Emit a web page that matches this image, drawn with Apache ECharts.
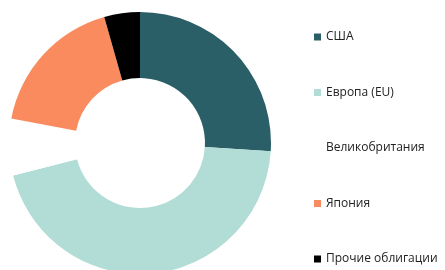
<!DOCTYPE html>
<html><head><meta charset="utf-8">
<script src="https://cdn.jsdelivr.net/npm/echarts@6/dist/echarts.min.js"></script>
<style>html,body{margin:0;padding:0;background:#fff}#c{width:445px;height:270px}</style>
</head><body><div id="c"></div>
<script>
const categories = ['США', 'Европа (EU)', 'Великобритания', 'Япония', 'Прочие облигации'];
const values = [26, 45, 7, 17.6, 4.4];
const colors = ['#2b5f67', '#b2dcd6', '#ffffff', '#f98b5e', '#000000'];

const chart = echarts.init(document.getElementById('c'), null, {renderer: 'canvas'});
chart.setOption({
  animation: false,
  legend: {
    orient: 'vertical',
    left: 314, top: 30,
    padding: 0,
    itemWidth: 7, itemHeight: 7, itemGap: 41.5,
    icon: 'rect',
    textStyle: {fontFamily: 'Open Sans', fontSize: 12, color: '#222', lineHeight: 14},
    data: categories
  },
  series: [{
    type: 'pie',
    center: [140, 143],
    radius: [65, 131],
    startAngle: 90,
    clockwise: true,
    label: {show: false},
    labelLine: {show: false},
    emphasis: {disabled: true},
    itemStyle: {borderWidth: 0},
    data: categories.map((n, i) => ({name: n, value: values[i], itemStyle: {color: colors[i]}}))
  }]
});
</script></body></html>
